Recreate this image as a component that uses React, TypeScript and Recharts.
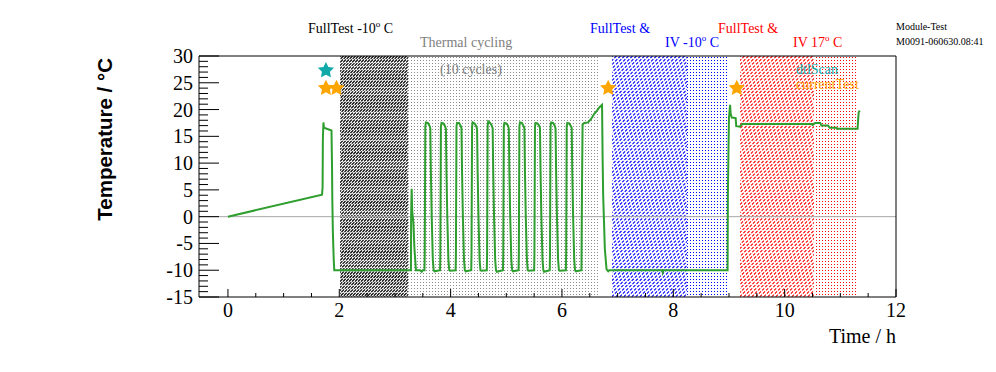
import React from "react";
import {
  ComposedChart,
  Line,
  Scatter,
  XAxis,
  YAxis,
  ReferenceArea,
  ReferenceLine,
} from "recharts";

// temperature trace, [time in h, temperature in °C]
const warmUp = [
  [0, 0], [1.69, 4.1], [1.7, 5.5], [1.705, 14.5], [1.715, 17.6], [1.725, 16.6],
  [1.86, 16.1], [1.87, 9], [1.875, 3], [1.885, -3], [1.9, -8], [1.91, -10],
];

const coldHold = [
  [2.5, -10], [3.0, -10], [3.287, -10], [3.29, 0], [3.3, 5.2], [3.31, 1],
  [3.33, -1], [3.35, -6], [3.377, -10], [3.45, -10], [3.48, -10.3], [3.5, -10],
];

const cycling = [
  [3.53, -10], [3.535, -7], [3.545, 16.8], [3.555, 17.6], [3.59, 17.5], [3.62, 17], [3.635, 16.5], [3.645, 8.5], [3.66, 0], [3.68, -8], [3.695, -10], [3.71, -10.2],
  [3.81, -10], [3.815, -7], [3.825, 16.8], [3.835, 17.5], [3.87, 17.4], [3.9, 16.9], [3.915, 16.4], [3.925, 8.5], [3.94, 0], [3.96, -8], [3.975, -10], [3.99, -10.1],
  [4.09, -10], [4.095, -7], [4.105, 16.8], [4.115, 17.5], [4.15, 17.5], [4.18, 17], [4.195, 16.5], [4.205, 8.4], [4.22, 0], [4.24, -8], [4.255, -10], [4.27, -10.2],
  [4.37, -10], [4.375, -7], [4.385, 16.8], [4.395, 17.6], [4.43, 17.4], [4.46, 16.9], [4.475, 16.4], [4.485, 8.5], [4.5, 0], [4.52, -8], [4.535, -10], [4.55, -10.1],
  [4.65, -10], [4.655, -7], [4.665, 16.9], [4.675, 17.8], [4.71, 17.5], [4.74, 17], [4.755, 16.5], [4.765, 8.5], [4.78, 0], [4.8, -8], [4.815, -10], [4.83, -10.3],
  [4.94, -10], [4.945, -7], [4.955, 16.8], [4.965, 17.5], [5.0, 17.4], [5.03, 17], [5.045, 16.4], [5.055, 8.4], [5.07, 0], [5.09, -8], [5.105, -10], [5.12, -10.2],
  [5.22, -10], [5.225, -7], [5.235, 16.8], [5.245, 17.6], [5.28, 17.5], [5.31, 16.9], [5.325, 16.5], [5.335, 8.5], [5.35, 0], [5.37, -8], [5.385, -10], [5.4, -10.1],
  [5.5, -10], [5.505, -7], [5.515, 16.8], [5.525, 17.5], [5.56, 17.4], [5.59, 17], [5.605, 16.5], [5.615, 8.5], [5.63, 0], [5.65, -8], [5.665, -10], [5.68, -10.3],
  [5.78, -10], [5.785, -7], [5.795, 16.9], [5.805, 17.6], [5.84, 17.5], [5.87, 17], [5.885, 16.4], [5.895, 8.4], [5.91, 0], [5.93, -8], [5.945, -10], [5.96, -10.1],
  [6.07, -10], [6.075, -7], [6.085, 16.8], [6.095, 17.5], [6.13, 17.4], [6.16, 16.9], [6.175, 16.5], [6.185, 8.5], [6.2, 0], [6.22, -8], [6.235, -10], [6.25, -10.2],
];

const warmHold = [
  [6.35, -10], [6.355, -1], [6.36, 6], [6.37, 17.2], [6.4, 17.5], [6.47, 17.6],
  [6.52, 18.2], [6.58, 19.2], [6.63, 19.8], [6.67, 20.4], [6.72, 20.9], [6.73, 11],
  [6.74, 4], [6.755, -1], [6.77, -6], [6.8, -9.8], [6.83, -10.2],
];

const coldTest = [
  [6.85, -10], [7.5, -10], [7.8, -10], [7.81, -10.4], [7.82, -10], [8.5, -10], [8.975, -10],
];

const warmTest = [
  [8.98, 4], [8.99, 12], [9.0, 18.5], [9.02, 20.9], [9.03, 19.2], [9.05, 18.5],
  [9.12, 18.4], [9.13, 16.9], [9.2, 16.8], [9.21, 17.0], [9.24, 17.3], [9.8, 17.3],
  [10.49, 17.3], [10.5, 17.1], [10.55, 17.5], [10.64, 17.5], [10.66, 17.0], [10.78, 17.0],
  [10.81, 16.6], [10.93, 16.6], [10.94, 16.4], [11.31, 16.4], [11.32, 18.2], [11.33, 19.5],
  [11.35, 19.8],
];

// test markers
const dtlScanMarks = [[1.76, 27.3]];
const currentTestMarks = [[1.76, 24], [1.95, 24], [6.83, 24], [9.14, 24]];

// shaded phases [from h, to h, fill style, colour]
const phases: [number, number, "hatch" | "dots", string][] = [
  [2.01, 3.23, "hatch", "#000000"],
  [3.23, 6.65, "dots", "#8c8c8c"],
  [6.9, 8.25, "hatch", "#0000ff"],
  [8.25, 8.96, "dots", "#0000ff"],
  [9.2, 10.53, "hatch", "#ff0000"],
  [10.53, 11.3, "dots", "#ff0000"],
];

const xTicks = [
  0, 0.5, 1, 1.5, 2, 2.5, 3, 3.5, 4, 4.5, 5, 5.5, 6, 6.5, 7, 7.5, 8, 8.5, 9, 9.5,
  10, 10.5, 11, 11.5, 12,
];
const xLabels = [0, 2, 4, 6, 8, 10, 12];

const yTicks = [
  -15, -14, -13, -12, -11, -10, -9, -8, -7, -6, -5, -4, -3, -2, -1, 0, 1, 2, 3, 4,
  5, 6, 7, 8, 9, 10, 11, 12, 13, 14, 15, 16, 17, 18, 19, 20, 21, 22, 23, 24, 25,
  26, 27, 28, 29, 30,
];
const yLabels = [-15, -10, -5, 0, 5, 10, 15, 20, 25, 30];

const toPoints = (rows: number[][]) => rows.map(([t, temp]) => ({ t, temp }));

const trace = toPoints([
  ...warmUp, ...coldHold, ...cycling, ...warmHold, ...coldTest, ...warmTest,
]);

const SERIF = "'Liberation Serif', 'Times New Roman', serif";
const SANS = "'Liberation Sans', Arial, sans-serif";

function XTick({ x, y, payload }: any) {
  const major = xLabels.includes(payload.value);
  return (
    <g>
      <line x1={x} x2={x} y1={y} y2={y - (major ? 8 : 4)} stroke="#000" />
      {major && (
        <text x={x} y={y + 20} textAnchor="middle" fontFamily={SERIF} fontSize={20} fill="#000">
          {payload.value}
        </text>
      )}
    </g>
  );
}

function YTick({ x, y, payload }: any) {
  const major = yLabels.includes(payload.value);
  return (
    <g>
      <line x1={x + 6} x2={x + 6 + (major ? 20 : 9)} y1={y} y2={y} stroke="#000" />
      {major && (
        <text x={x} y={y + 7} textAnchor="end" fontFamily={SERIF} fontSize={20} fill="#000">
          {payload.value}
        </text>
      )}
    </g>
  );
}

function StarMark({ cx, cy, fill }: any) {
  const pts: string[] = [];
  for (let i = 0; i < 10; i++) {
    const r = i % 2 === 0 ? 8.5 : 4.2;
    const a = -Math.PI / 2 + (i * Math.PI) / 5;
    pts.push(`${cx + r * Math.cos(a)},${cy + r * Math.sin(a)}`);
  }
  return <polygon points={pts.join(" ")} fill={fill} />;
}

function Sup({ children }: { children: string }) {
  return (
    <>
      <tspan fontSize={9} dy={-6}>o</tspan>
      <tspan dy={6}>{children}</tspan>
    </>
  );
}

// ROOT-like fill styles: "/" hatching drawn line by line, or a pixel dot grid
function PhaseShape({ x, y, width, height, kind, color }: any) {
  const x0 = Math.round(x);
  const y0 = Math.round(y);
  const w = Math.round(x + width) - x0;
  const h = Math.round(y + height) - y0;
  if (kind === "dots") {
    const pid = `dots-${x0}`;
    return (
      <g>
        <defs>
          <pattern id={pid} width={3} height={3} patternUnits="userSpaceOnUse">
            <rect x={0} y={0} width={1} height={1} fill={color} />
          </pattern>
        </defs>
        <rect x={x0} y={y0} width={w} height={h} fill={`url(#${pid})`} />
      </g>
    );
  }
  const black = color === "#000000";
  const step = black ? 3 : 4;
  const cid = `clip-${x0}`;
  const lines = [];
  for (let k = 0; k * step < w + h; k++) {
    const sx = x0 + k * step + 0.5;
    lines.push(
      <line
        key={k}
        x1={sx}
        y1={y0}
        x2={sx - h}
        y2={y0 + h}
        stroke={color}
        strokeWidth={black ? 1.2 : 1.1}
        strokeDasharray={black ? "4 1" : "3 1.5"}
      />
    );
  }
  return (
    <g>
      <defs>
        <clipPath id={cid}>
          <rect x={x0} y={y0} width={w} height={h} />
        </clipPath>
      </defs>
      <g clipPath={`url(#${cid})`}>{lines}</g>
    </g>
  );
}

export default function App() {
  return (
    <div style={{ position: "absolute", left: 0, top: 0, width: 996, height: 372, background: "#fff" }}>
      <ComposedChart
        width={996}
        height={372}
        margin={{ top: 56, right: 100, bottom: 35, left: 139 }}
      >
        <XAxis
          dataKey="t"
          type="number"
          domain={[-0.52, 12]}
          ticks={xTicks}
          interval={0}
          height={40}
          tickSize={0}
          tickMargin={0}
          tickLine={false}
          axisLine={{ stroke: "#000" }}
          tick={<XTick />}
          allowDataOverflow
          label={(props: any) => {
            const vb = props.viewBox;
            return (
              <text x={vb.x + vb.width} y={vb.y + 46} textAnchor="end" fontFamily={SERIF} fontSize={20} fill="#000">
                Time / h
              </text>
            );
          }}
        />
        <YAxis
          dataKey="temp"
          type="number"
          domain={[-15, 30]}
          ticks={yTicks}
          interval={0}
          width={60}
          tickSize={0}
          tickMargin={6}
          tickLine={false}
          axisLine={{ stroke: "#000" }}
          tick={<YTick />}
          allowDataOverflow
          label={(props: any) => {
            const vb = props.viewBox;
            const lx = vb.x - 27;
            const ly = vb.y + 2;
            return (
              <text
                x={lx}
                y={ly}
                transform={`rotate(-90 ${lx} ${ly})`}
                textAnchor="end"
                fontFamily={SANS}
                fontWeight="bold"
                fontSize={20.5}
                fill="#000"
              >
                Temperature / °C
              </text>
            );
          }}
        />
        {phases.map(([from, to, kind, color]) => (
          <ReferenceArea
            key={`${from}`}
            x1={from}
            x2={to}
            ifOverflow="visible"
            shape={(p: any) => <PhaseShape {...p} kind={kind} color={color} />}
          />
        ))}
        <ReferenceLine y={0} stroke="#a8a8a8" strokeWidth={1} />
        <ReferenceLine y={30} stroke="#000" strokeWidth={1} />
        <ReferenceLine x={12} stroke="#000" strokeWidth={1} />
        <Line
          data={trace}
          dataKey="temp"
          type="linear"
          stroke="#2e9e2e"
          strokeWidth={2}
          dot={false}
          isAnimationActive={false}
        />
        <Scatter
          data={toPoints(dtlScanMarks)}
          dataKey="temp"
          fill="#10a8a8"
          shape={<StarMark />}
          isAnimationActive={false}
        />
        <Scatter
          data={toPoints(currentTestMarks)}
          dataKey="temp"
          fill="#ffa500"
          shape={<StarMark />}
          isAnimationActive={false}
        />
      </ComposedChart>
      <svg
        width={996}
        height={372}
        style={{ position: "absolute", left: 0, top: 0, pointerEvents: "none" }}
        fontFamily={SERIF}
      >
        <text x={308} y={33} fontSize={14} fill="#000">
          FullTest -10<Sup> C</Sup>
        </text>
        <text x={420} y={47} fontSize={14} fill="#808080">Thermal cycling</text>
        <text x={440} y={74} fontSize={14} fill="#808080">(10 cycles)</text>
        <text x={590} y={33} fontSize={14} fill="#0000ff">FullTest &amp;</text>
        <text x={665} y={47} fontSize={14} fill="#0000ff">
          IV -10<Sup> C</Sup>
        </text>
        <text x={718} y={33} fontSize={14} fill="#ff0000">FullTest &amp;</text>
        <text x={793} y={47} fontSize={14} fill="#ff0000">
          IV 17<Sup> C</Sup>
        </text>
        <text x={796} y={74} fontSize={14} fill="#10a8a8">dtlScan</text>
        <text x={796} y={89} fontSize={14} fill="#ffa500">currentTest</text>
        <text x={896} y={30} fontSize={10} fill="#000">Module-Test</text>
        <text x={896} y={45} fontSize={10} fill="#000">M0091-060630.08:41</text>
      </svg>
    </div>
  );
}
